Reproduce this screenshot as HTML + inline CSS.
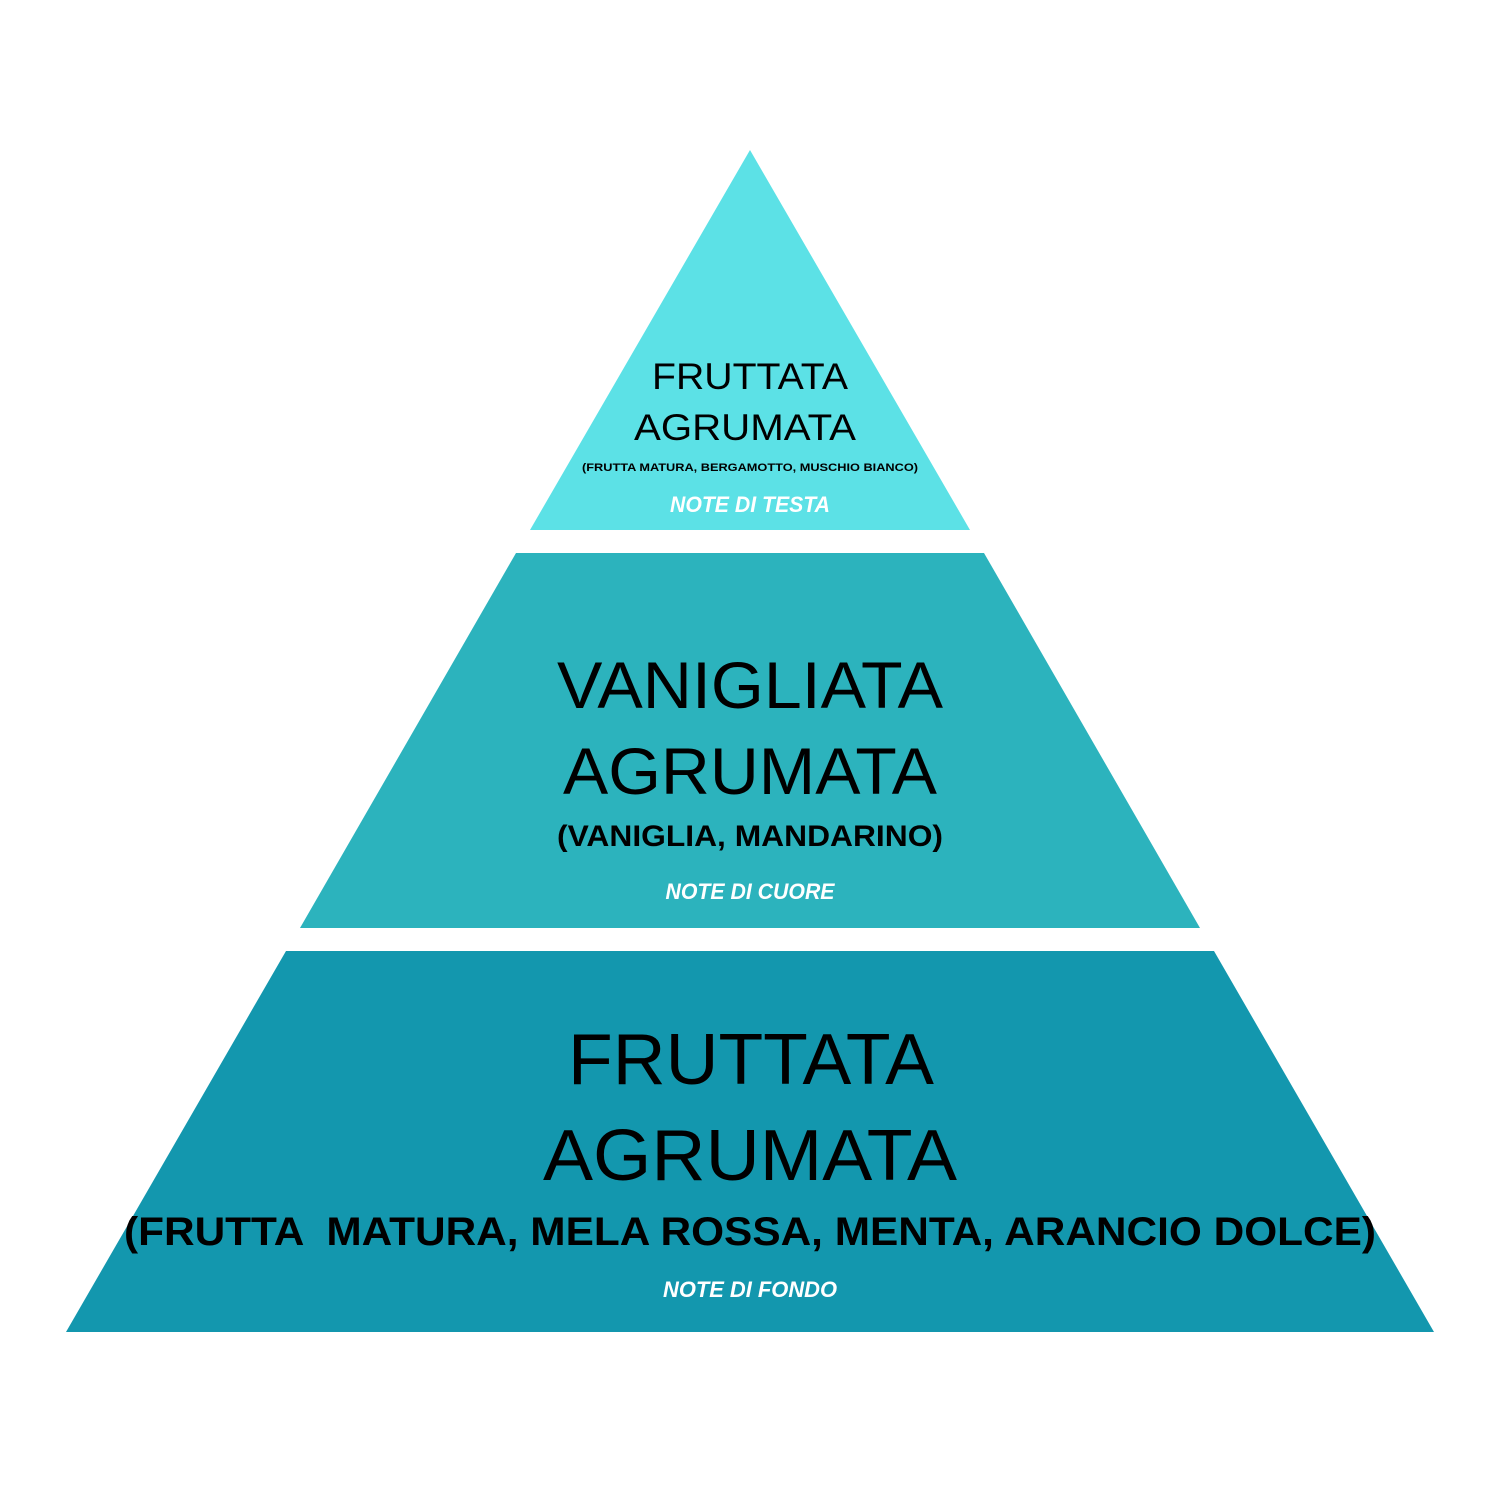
<!DOCTYPE html>
<html><head><meta charset="utf-8"><style>html,body{margin:0;padding:0;background:#fff}svg{display:block}</style></head>
<body>
<svg width="1500" height="1500" viewBox="0 0 1500 1500" xmlns="http://www.w3.org/2000/svg">
<rect width="1500" height="1500" fill="#fff"/>
<polygon points="750,150 970,530 530,530" fill="#5ce1e6"/>
<polygon points="516,553 984,553 1200,928 300,928" fill="#2cb3bd"/>
<polygon points="286,951 1214,951 1434,1332 66,1332" fill="#1397ae"/>
<g font-family="Liberation Sans, sans-serif" text-anchor="middle" fill="#000">
<text x="750" y="389" font-size="37" textLength="196" lengthAdjust="spacingAndGlyphs">FRUTTATA</text>
<text x="745" y="440" font-size="37" textLength="222" lengthAdjust="spacingAndGlyphs">AGRUMATA</text>
<text x="750" y="471" font-size="11" font-weight="bold" textLength="336" lengthAdjust="spacingAndGlyphs">(FRUTTA MATURA, BERGAMOTTO, MUSCHIO BIANCO)</text>
<text x="750" y="512" font-size="22" font-weight="bold" font-style="italic" fill="#fff" textLength="160" lengthAdjust="spacingAndGlyphs">NOTE DI TESTA</text>
<text x="750" y="708" font-size="66" textLength="386" lengthAdjust="spacingAndGlyphs">VANIGLIATA</text>
<text x="750" y="794" font-size="66" textLength="374" lengthAdjust="spacingAndGlyphs">AGRUMATA</text>
<text x="750" y="846" font-size="30" font-weight="bold" textLength="386" lengthAdjust="spacingAndGlyphs">(VANIGLIA, MANDARINO)</text>
<text x="750" y="899" font-size="22" font-weight="bold" font-style="italic" fill="#fff" textLength="169" lengthAdjust="spacingAndGlyphs">NOTE DI CUORE</text>
<text x="751" y="1084" font-size="72" textLength="366" lengthAdjust="spacingAndGlyphs">FRUTTATA</text>
<text x="750" y="1180" font-size="72" textLength="414" lengthAdjust="spacingAndGlyphs">AGRUMATA</text>
<text x="750" y="1245" font-size="40" font-weight="bold" textLength="1252" lengthAdjust="spacingAndGlyphs">(FRUTTA &#160;MATURA, MELA ROSSA, MENTA, ARANCIO DOLCE)</text>
<text x="750" y="1297" font-size="22" font-weight="bold" font-style="italic" fill="#fff" textLength="174" lengthAdjust="spacingAndGlyphs">NOTE DI FONDO</text>
</g>
</svg>
</body></html>
